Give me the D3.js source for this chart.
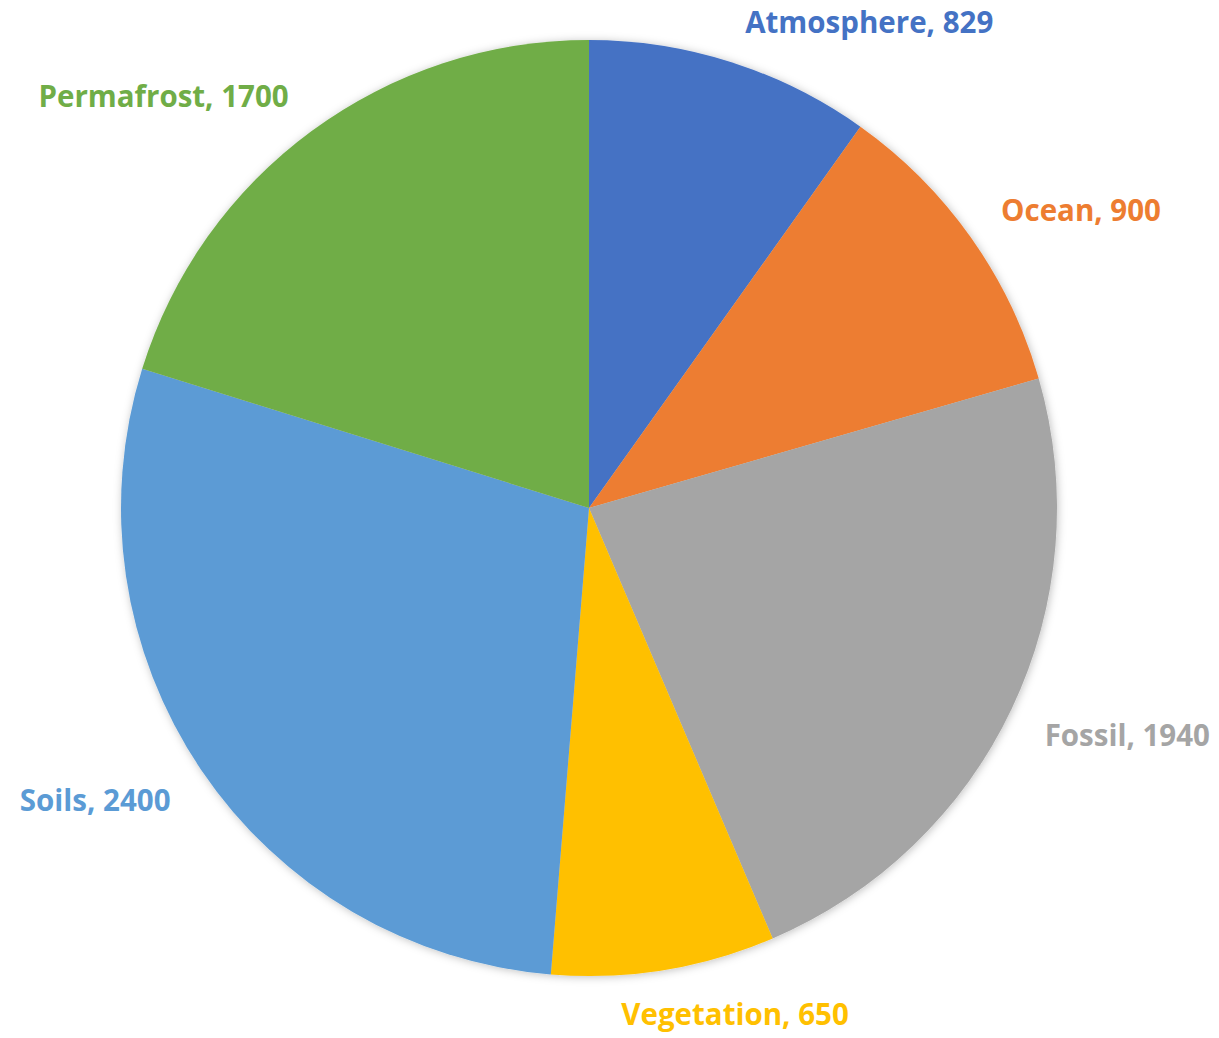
<!DOCTYPE html>
<html>
<head>
<meta charset="utf-8">
<script src="https://cdn.jsdelivr.net/npm/d3@7"></script>
<style>
  html, body { margin: 0; padding: 0; background: #fff; }
  svg { display: block; }
</style>
</head>
<body>
<svg id="chart" width="1219" height="1038"></svg>
<script>
// Carbon pools (GtC)
const categories = ["Atmosphere", "Ocean", "Fossil", "Vegetation", "Soils", "Permafrost"];
const values = [829, 900, 1940, 650, 2400, 1700];
const colors = ["#4472C4", "#ED7D31", "#A5A5A5", "#FFC000", "#5B9BD5", "#70AD47"];

const W = 1219, H = 1038;
const cx = 589, cy = 508, radius = 468;
const labelGap = 32;
const fontSize = 29.5;

const svg = d3.select("#chart");

const defs = svg.append("defs");
const shadow = defs.append("filter").attr("id", "pieShadow")
  .attr("x", "-10%").attr("y", "-10%").attr("width", "120%").attr("height", "120%");
shadow.append("feDropShadow")
  .attr("dx", 1).attr("dy", 1).attr("stdDeviation", 4)
  .attr("flood-color", "#000").attr("flood-opacity", 0.25);

const data = categories.map((c, i) => ({ name: c, value: values[i], color: colors[i] }));

const pie = d3.pie().value(d => d.value).sort(null);
const arcs = pie(data);
const arc = d3.arc().innerRadius(0).outerRadius(radius);

const g = svg.append("g").attr("transform", `translate(${cx},${cy})`);

g.append("g").attr("filter", "url(#pieShadow)")
  .selectAll("path")
  .data(arcs)
  .join("path")
  .attr("d", arc)
  .attr("fill", d => d.data.color);

// Outside-end labels: the box corner nearest the pie sits on a point just past the rim
const clamp = v => Math.max(-1, Math.min(1, v));
const labels = g.append("g")
  .selectAll("text")
  .data(arcs)
  .join("text")
  .attr("font-family", "'Open Sans', sans-serif")
  .attr("font-weight", 700)
  .attr("font-size", fontSize)
  .attr("fill", d => d.data.color)
  .attr("text-anchor", "middle")
  .attr("dominant-baseline", "central")
  .text(d => `${d.data.name}, ${d.data.value}`);

labels.each(function(d) {
  const a = (d.startAngle + d.endAngle) / 2;
  const bb = this.getBBox();
  const halfW = bb.width / 2 + 4, halfH = 11;
  const r = radius + labelGap;
  const px = Math.sin(a) * r, py = -Math.cos(a) * r;
  const x = px + clamp(Math.sin(a) * 3.5) * halfW;
  const y = py + clamp(-Math.cos(a) * 3.5) * halfH + 1;
  d3.select(this).attr("x", x).attr("y", y);
});
</script>
</body>
</html>
